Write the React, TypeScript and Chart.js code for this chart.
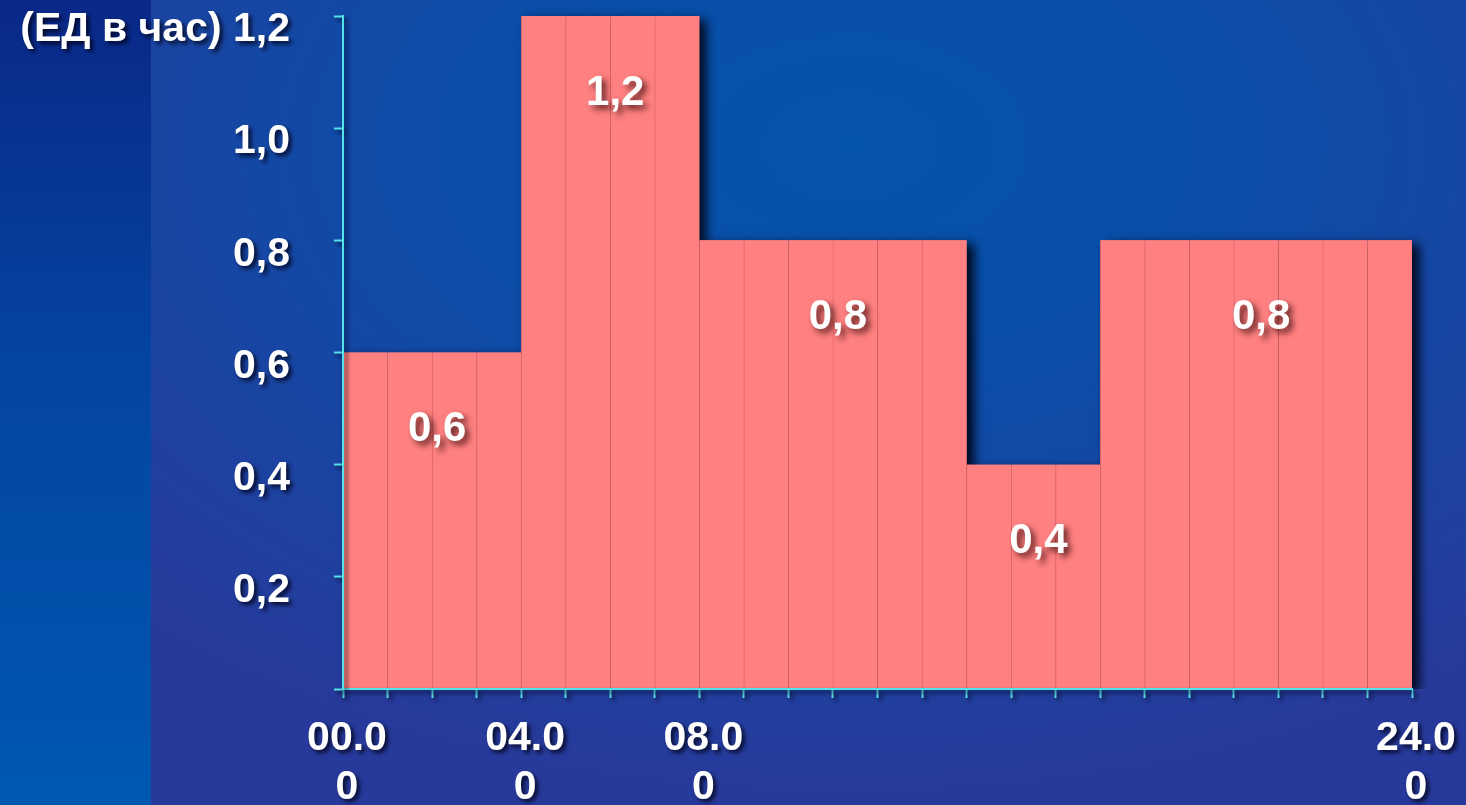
import { useEffect, useRef } from "react";
import { Chart, registerables } from "chart.js";

Chart.register(...registerables);

// Dosage schedule: each block covers [start, end) hours at a constant rate
const blockStarts = [0, 4, 8, 14, 17];
const blockEnds = [4, 8, 14, 17, 24];
const blockValues = [0.6, 1.2, 0.8, 0.4, 0.8];
const blockLabels = ["0,6", "1,2", "0,8", "0,4", "0,8"];

// One bar per hour of the day
const hours = Array.from({ length: 24 }, (_, h) => h);

// Labelled hour ticks on the time axis
const xTickHours = [0, 4, 8, 24];
const xTickLabels = ["00.00", "04.00", "08.00", "24.00"];

const yUnit = "(ЕД в час)";

const hourlyRate = hours.map((h) => {
  const k = blockStarts.findIndex((s, i) => h >= s && h < blockEnds[i]);
  return blockValues[k];
});

const FONT_FAMILY = '"Liberation Sans", Arial, Helvetica, sans-serif';
const BAR_COLOR = "#FF8080";
const AXIS_COLOR = "#55E3EA";

function setTextShadow(ctx: CanvasRenderingContext2D) {
  ctx.shadowColor = "rgba(0, 0, 20, 0.8)";
  ctx.shadowOffsetX = 3;
  ctx.shadowOffsetY = 3;
  ctx.shadowBlur = 4;
}

function clearShadow(ctx: CanvasRenderingContext2D) {
  ctx.shadowColor = "rgba(0,0,0,0)";
  ctx.shadowOffsetX = 0;
  ctx.shadowOffsetY = 0;
  ctx.shadowBlur = 0;
}

const effectsPlugin = {
  id: "effects",
  beforeDraw(chart: any) {
    // axis labels and tick marks carry a soft drop shadow
    setTextShadow(chart.ctx);
  },
  beforeDatasetsDraw(chart: any) {
    const ctx = chart.ctx as CanvasRenderingContext2D;
    const area = chart.chartArea;
    const meta = chart.getDatasetMeta(0);
    ctx.save();
    ctx.beginPath();
    ctx.rect(0, 0, chart.width, area.bottom);
    ctx.clip();
    ctx.shadowColor = "rgba(0, 4, 20, 0.95)";
    ctx.shadowOffsetX = 7;
    ctx.shadowOffsetY = 4;
    ctx.shadowBlur = 10;
    ctx.fillStyle = BAR_COLOR;
    meta.data.forEach((bar: any) => {
      const { x, y, base, width } = bar.getProps(["x", "y", "base", "width"], true);
      ctx.fillRect(x - width / 2, y, width, base - y);
    });
    ctx.restore();
    clearShadow(ctx);
  },
  afterDatasetsDraw(chart: any) {
    const ctx = chart.ctx as CanvasRenderingContext2D;
    const xs = chart.scales.xHours;
    const ys = chart.scales.y;
    ctx.save();
    ctx.shadowColor = "rgba(40, 0, 0, 0.75)";
    ctx.shadowOffsetX = 4;
    ctx.shadowOffsetY = 4;
    ctx.shadowBlur = 6;
    ctx.fillStyle = "#FFFFFF";
    ctx.font = `bold 42px ${FONT_FAMILY}`;
    ctx.textAlign = "center";
    ctx.textBaseline = "middle";
    blockLabels.forEach((text, i) => {
      const cx = (xs.getPixelForValue(blockStarts[i]) + xs.getPixelForValue(blockEnds[i])) / 2 + 5;
      const cy = ys.getPixelForValue(blockValues[i]) + 77;
      ctx.fillText(text, cx, cy);
    });
    ctx.restore();
    // axis lines are drawn next, above the bars
    setTextShadow(ctx);
  },
  afterDraw(chart: any) {
    clearShadow(chart.ctx);
  },
};

function fmt(v: number) {
  return v.toFixed(1).replace(".", ",");
}

export default function App() {
  const canvasRef = useRef<HTMLCanvasElement | null>(null);

  useEffect(() => {
    document.body.style.margin = "0";
    const canvas = canvasRef.current;
    if (!canvas) return;
    const tickFont = { family: FONT_FAMILY, size: 41, weight: "bold" as const };

    const chart = new Chart(canvas, {
      type: "bar",
      data: {
        labels: hours.map(String),
        datasets: [
          {
            data: hourlyRate,
            backgroundColor: BAR_COLOR,
            borderColor: "rgba(190, 70, 70, 0.35)",
            borderWidth: { left: 1, right: 0, top: 0, bottom: 0 },
            borderSkipped: false,
            barPercentage: 1,
            categoryPercentage: 1,
            xAxisID: "x",
          },
        ],
      },
      options: {
        animation: false,
        responsive: false,
        devicePixelRatio: 1,
        events: [],
        layout: { padding: { top: 16, right: 54, left: 0, bottom: 0 } },
        plugins: { legend: { display: false }, tooltip: { enabled: false } },
        scales: {
          x: { type: "category", display: false, offset: true },
          xHours: {
            type: "linear",
            axis: "x",
            position: "bottom",
            offset: false,
            min: 0,
            max: 24,
            ticks: {
              stepSize: 1,
              autoSkip: false,
              maxRotation: 0,
              color: "#FFFFFF",
              font: { ...tickFont, lineHeight: "49px" },
              padding: 16,
              labelOffset: 4,
              callback: (value: any) => {
                const i = xTickHours.indexOf(Number(value));
                if (i < 0) return "";
                const s = xTickLabels[i];
                return [s.slice(0, 4), s.slice(4)];
              },
            },
            grid: {
              offset: false,
              drawOnChartArea: false,
              drawTicks: true,
              tickLength: 9,
              tickColor: AXIS_COLOR,
              tickWidth: 2,
            },
            border: { color: AXIS_COLOR, width: 2, z: 1 },
            afterFit: (s: any) => {
              s.height = 116;
              s.paddingLeft = 0;
              s.paddingRight = 0;
            },
          },
          y: {
            min: 0,
            max: 1.2,
            ticks: {
              stepSize: 0.2,
              color: "#FFFFFF",
              font: tickFont,
              padding: 44,
              labelOffset: 14,
              callback: (value: any) => {
                const v = Number(value);
                if (Math.abs(v) < 1e-9) return "";
                if (Math.abs(v - 1.2) < 1e-9) return `${yUnit} ${fmt(v)}`;
                return fmt(v);
              },
            },
            grid: {
              drawOnChartArea: false,
              drawTicks: true,
              tickLength: 9,
              tickColor: AXIS_COLOR,
              tickWidth: 2,
            },
            border: { color: AXIS_COLOR, width: 2, z: 1 },
            afterFit: (s: any) => {
              s.width = 343;
              s.paddingTop = 0;
              s.paddingBottom = 0;
            },
          },
        },
      } as any,
      plugins: [effectsPlugin],
    });

    return () => chart.destroy();
  }, []);

  return (
    <div
      style={{
        position: "fixed",
        left: 0,
        top: 0,
        width: 1466,
        height: 805,
        overflow: "hidden",
        background:
          "radial-gradient(ellipse 70% 80% at 58% 18%, #0552ac 0%, #0a4eaa 35%, #1a44a2 70%, #273a9b 100%)",
      }}
    >
      <div
        style={{
          position: "absolute",
          left: 0,
          top: 0,
          width: 151,
          height: 805,
          background: "linear-gradient(to bottom, #0a2888 0%, #0444a2 45%, #0058b1 100%)",
        }}
      />
      <canvas
        ref={canvasRef}
        width={1466}
        height={805}
        style={{ position: "absolute", left: 0, top: 0, width: 1466, height: 805 }}
      />
    </div>
  );
}
